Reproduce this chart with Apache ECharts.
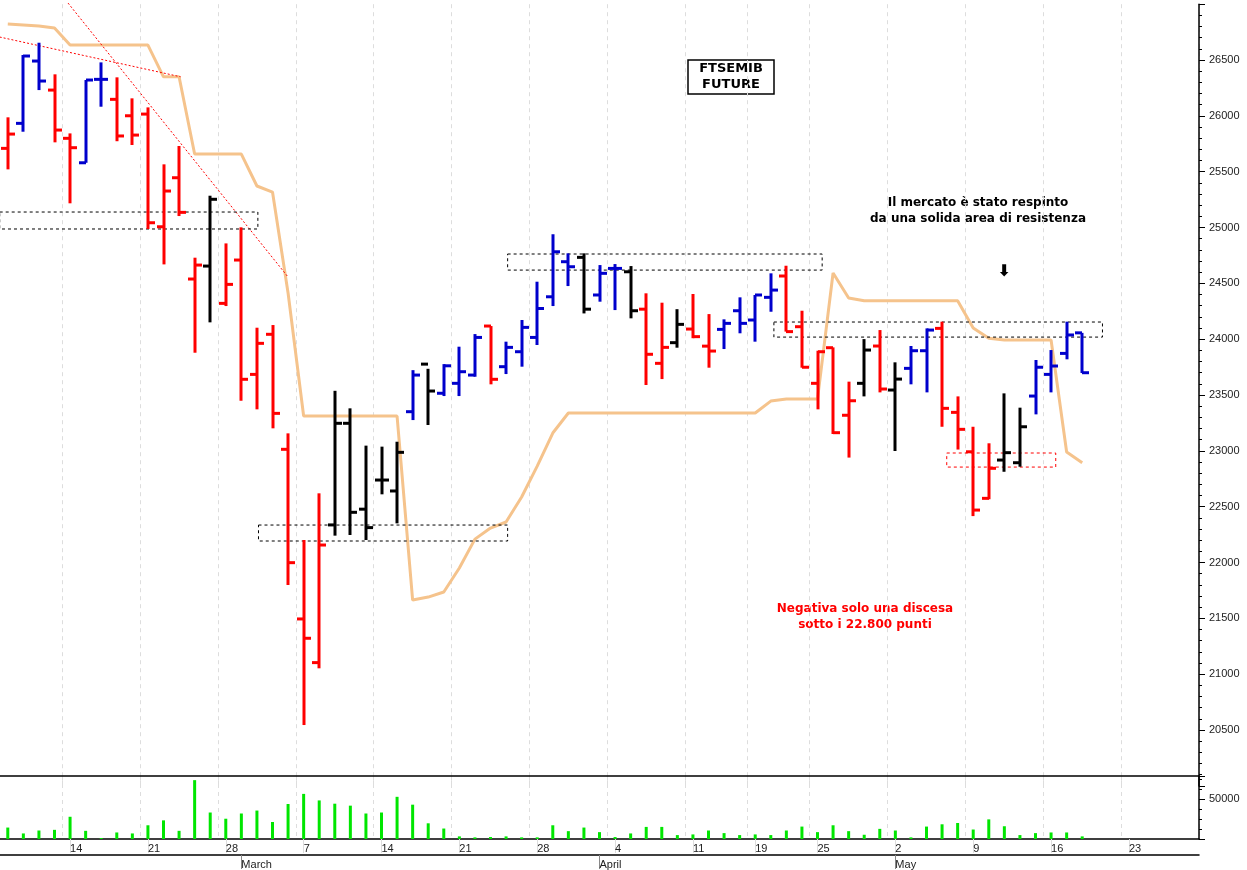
<!DOCTYPE html>
<html><head><meta charset="utf-8">
<script src="https://cdn.jsdelivr.net/npm/echarts@6/dist/echarts.min.js"></script>
<style>html,body{margin:0;padding:0;background:#fff}#c{width:1247px;height:870px}</style>
</head><body><div id="c"></div>
<script>
// trading days
const febDays=[8,9,10,11,14,15,16,17,18,21,22,23,24,25,28];
const marDays=[1,2,3,4,7,8,9,10,11,14,15,16,17,18,21,22,23,24,25,28,29,30,31];
const aprDays=[1,4,5,6,7,8,11,12,13,14,19,20,21,22,25,26,27,28,29];
const mayDays=[2,3,4,5,6,9,10,11,12,13,16,17,18,19,20,23,24,25,26,27];
const weekStarts=[4,9,14,19,24,29,34,39,44,48,52,57,62,67,72];
const monthStarts={15:'March',38:'April',57:'May'};
const categories=[].concat(
  febDays.map(d=>'2022-02-'+d),marDays.map(d=>'2022-03-'+d),
  aprDays.map(d=>'2022-04-'+d),mayDays.map(d=>'2022-05-'+d));
const dayLabels=[].concat(febDays,marDays,aprDays,mayDays);

const opens=[25709,25933,26491,26231,25799,25580,26327,26148,26001,26016,25007,25446,24539,24655,24321,24709,23685,24044,23014,21495,21104,22337,23247,22478,22739,22641,
23351,23777,23516,23605,23679,24118,23754,23888,24016,24380,24694,24733,24396,24634,24604,24269,23784,23969,24091,23938,24088,24255,24172,24375,
24566,24112,23605,23924,23319,23605,23939,23545,23739,23897,24097,23345,22992,22575,22918,22894,23491,23685,23873,24057];
const highs=[25987,26545,26655,26372,25843,26321,26479,26345,26157,26076,25566,25730,24730,25285,24858,25002,24103,24127,23157,22202,22620,23538,23381,23047,23038,23082,
23723,23735,23777,23933,24046,24118,23978,24172,24515,24940,24769,24769,24664,24673,24655,24411,24327,24269,24405,24225,24178,24375,24396,24590,
24658,24255,23897,23927,23620,24001,24082,23793,23939,24097,24157,23488,23216,23068,23515,23387,23814,23903,24157,24057];
const lows=[25521,25858,26231,25763,25217,25580,26082,25773,25739,24987,24670,25103,23879,24151,24297,23449,23372,23202,21799,20545,21053,22241,22247,22202,22611,22351,
23276,23232,23491,23491,23664,23596,23688,23754,23948,24297,24476,24231,24336,24261,24187,23590,23643,23924,24009,23745,23912,24053,23978,24246,
24068,23745,23372,23151,22940,23488,23524,22999,23596,23524,23216,23012,22416,22567,22813,22858,23327,23524,23820,23697];
const closes=[25837,26536,26312,25873,25715,26321,26327,25820,25828,25043,25327,25136,24664,25253,24491,23641,23963,23336,21999,21322,22157,23247,22450,22313,22739,22987,
23679,23536,23762,23709,24016,23641,23927,24106,24275,24783,24649,24269,24590,24634,24255,23865,23927,24133,24023,23894,24142,24142,24396,24440,
24068,23749,23888,23163,23449,23903,23554,23643,23897,24082,23381,23193,22470,22844,22984,23216,23749,23760,24038,23700];
const barColors='RBBRRBBRRRRRRKRRRRRRRKKKKKBKBBBRBBBBBKBBKRRKRRBBBBRRRRRKRKBBRRRRKKBBBB';
const volumes=[14350,6970,10660,11480,27880,10250,1230,8200,6970,17220,23370,10250,73800,33210,25420,31980,35670,21320,43870,56580,48380,44280,41820,31980,33210,52890,43050,19680,13120,3280,
2050,2460,3280,2050,2050,17220,9840,14350,8610,2460,6970,15170,15170,4920,5740,10660,7380,4920,5740,4920,10660,15580,8610,17220,9840,5330,12710,10660,2050,15580,18450,20090,11890,24600,15990,4920,7380,8200,8200,3280];
const bandLine=[26822,26813,26804,26787,26634,26634,26634,26634,26634,26634,26350,26350,25658,25658,25658,25658,25372,25318,24414,23312,23312,23312,23312,23312,23312,23312,
21664,21691,21736,21951,22210,22309,22363,22587,22864,23160,23339,23339,23339,23339,23339,23339,23339,23339,23339,23339,23339,23339,23339,23446,
23464,23464,23464,24593,24369,24345,24345,24345,24345,24345,24345,24345,24100,24008,23993,23993,23993,23993,22990,22894];
// annotation boxes: [x1,x2,priceTop,priceBottom,dashed color]
const boxes=[[-0.52,16.06,25139,24987,'#000'],[16.1,32.1,22336,22193,'#000'],[32.1,52.3,24763,24619,'#000'],[49.2,70.3,24154,24019,'#000'],[60.3,67.3,22981,22855,'#ff0000']];
const trendLines=[[-0.52,26706,11.1,26350],[3.87,27010,18.0,24557]];

const colorMap={R:'#ff0000',B:'#0000cc',K:'#000000'};
const ohlc=opens.map((o,i)=>[i,o,highs[i],lows[i],closes[i],barColors[i]]);
const chart=echarts.init(document.getElementById('c'));
const isWeek=(i)=>weekStarts.indexOf(i)>=0;
chart.setOption({
  animation:false,
  grid:[{left:0,right:48,top:4.2,height:781.7},{left:0,right:48,top:776,height:64}],
  xAxis:[
    {type:'category',data:categories,gridIndex:0,position:'bottom',boundaryGap:true,axisLine:{show:false,onZero:false},axisTick:{show:false},axisLabel:{show:false},
     splitLine:{show:true,interval:(i)=>isWeek(i),lineStyle:{color:'#ddd',type:[4,4]}}},
    {type:'value',gridIndex:0,min:-0.5,max:76.5,show:false,axisLine:{onZero:false}},
    {type:'category',data:categories,gridIndex:1,position:'bottom',boundaryGap:true,axisLine:{onZero:false,lineStyle:{color:'#000',width:1.5}},
     axisTick:{show:true,alignWithLabel:true,interval:(i)=>isWeek(i),length:14,lineStyle:{color:'#ddd'}},
     axisLabel:{interval:(i)=>isWeek(i),formatter:(v,i)=>String(dayLabels[i]),align:'left',margin:4,fontSize:11,color:'#222',fontFamily:'Liberation Sans'},
     splitLine:{show:true,interval:(i)=>isWeek(i),lineStyle:{color:'#ddd',type:[4,4]}}},
    {type:'category',data:categories,gridIndex:1,position:'bottom',boundaryGap:true,offset:16,axisLine:{onZero:false,lineStyle:{color:'#000',width:1.5}},
     axisTick:{show:true,alignWithLabel:true,interval:(i)=>monthStarts[i]!==undefined,length:14,lineStyle:{color:'#888'}},
     axisLabel:{interval:(i)=>monthStarts[i]!==undefined,formatter:(v,i)=>monthStarts[i]||'',align:'left',margin:4,fontSize:11,color:'#222',fontFamily:'Liberation Sans'}},
    {type:'category',data:categories,gridIndex:1,position:'top',boundaryGap:true,axisLine:{onZero:false,lineStyle:{color:'#000',width:1.5}},axisTick:{show:false},axisLabel:{show:false}}
  ],
  yAxis:[
    {type:'value',gridIndex:0,position:'right',min:20000,max:27000,interval:500,
     axisLine:{show:true,onZero:false,lineStyle:{color:'#000',width:1.5}},axisTick:{show:true,length:6,lineStyle:{color:'#000'}},
     minorTick:{show:true,splitNumber:5,length:3,lineStyle:{color:'#000'}},
     axisLabel:{formatter:(v)=>(v>=20500&&v<=26500)?String(v):'',fontSize:11,color:'#222',margin:10,fontFamily:'Liberation Sans'},splitLine:{show:false}},
    {type:'value',gridIndex:1,position:'right',min:0,max:79000,interval:50000,
     axisLine:{show:true,onZero:false,lineStyle:{color:'#000',width:1.5}},axisTick:{show:true,length:6,lineStyle:{color:'#000'}},
     minorTick:{show:true,splitNumber:4,length:3,lineStyle:{color:'#000'}},
     axisLabel:{formatter:(v)=>v===50000?'50000':'',fontSize:11,color:'#222',margin:10,fontFamily:'Liberation Sans'},splitLine:{show:false}}
  ],
  series:[
    {type:'line',xAxisIndex:0,yAxisIndex:0,data:bandLine,symbol:'none',lineStyle:{color:'#f5c38c',width:3},z:1},
    {type:'custom',xAxisIndex:1,yAxisIndex:0,data:trendLines,z:2,renderItem:(p,api)=>{
      const a=api.coord([api.value(0),api.value(1)]),b=api.coord([api.value(2),api.value(3)]);
      return {type:'line',shape:{x1:a[0],y1:a[1],x2:b[0],y2:b[1]},style:{stroke:'#ff0000',lineWidth:1,lineDash:[2,2]}};}},
    {type:'custom',xAxisIndex:1,yAxisIndex:0,data:boxes,z:2,renderItem:(p,api)=>{
      const a=api.coord([api.value(0),api.value(2)]),b=api.coord([api.value(1),api.value(3)]);
      return {type:'rect',shape:{x:a[0],y:a[1],width:b[0]-a[0],height:b[1]-a[1]},style:{fill:null,stroke:boxes[p.dataIndex][4],lineWidth:1,lineDash:[3,3]}};}},
    {type:'custom',xAxisIndex:0,yAxisIndex:0,data:ohlc,z:5,renderItem:(p,api)=>{
      const d=ohlc[p.dataIndex];const c=colorMap[d[5]];
      const h=api.coord([d[0],d[2]]),l=api.coord([d[0],d[3]]),o=api.coord([d[0],d[1]]),cl=api.coord([d[0],d[4]]);
      const x=Math.round(h[0]);const st={stroke:c,lineWidth:3};
      return {type:'group',children:[
        {type:'line',shape:{x1:x,y1:h[1],x2:x,y2:l[1]},style:st},
        {type:'line',shape:{x1:x-7,y1:o[1],x2:x,y2:o[1]},style:st},
        {type:'line',shape:{x1:x,y1:cl[1],x2:x+7,y2:cl[1]},style:st}]};}},
    {type:'bar',xAxisIndex:2,yAxisIndex:1,data:volumes,barWidth:3,itemStyle:{color:'#00e600'}}
  ],
  graphic:[
    {type:'rect',shape:{x:688,y:60,width:86,height:34},style:{fill:'#fff',stroke:'#000',lineWidth:1.5}},
    {type:'text',x:731,y:77,style:{text:'FTSEMIB\nFUTURE',fill:'#000',font:'bold 13px "DejaVu Sans"',align:'center',verticalAlign:'middle',lineHeight:16}},
    {type:'text',x:978,y:211,style:{text:'Il mercato è stato respinto\nda una solida area di resistenza',fill:'#000',font:'bold 12px "DejaVu Sans"',align:'center',verticalAlign:'middle',lineHeight:16}},
    {type:'text',x:1004,y:272,style:{text:'⬇',fill:'#000',font:'bold 16px "DejaVu Sans"',align:'center',verticalAlign:'middle'}},
    {type:'text',x:865,y:617,style:{text:'Negativa solo una discesa\nsotto i 22.800 punti',fill:'#ff0000',font:'bold 12px "DejaVu Sans"',align:'center',verticalAlign:'middle',lineHeight:16}}
  ]
});
</script></body></html>
